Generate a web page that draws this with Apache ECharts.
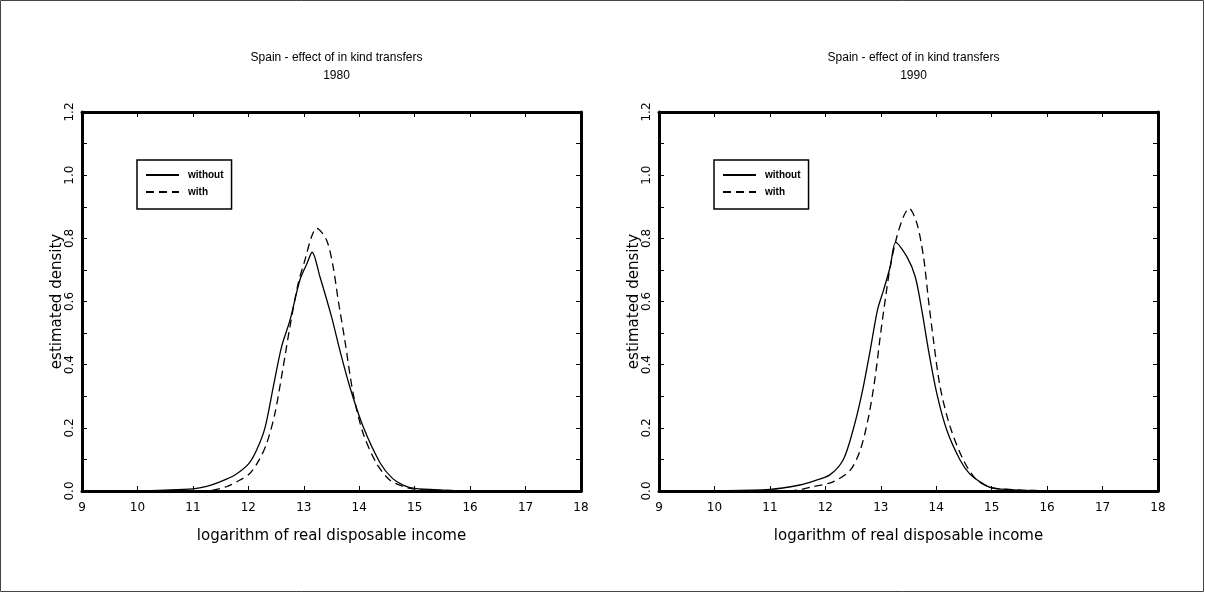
<!DOCTYPE html>
<html>
<head>
<meta charset="utf-8">
<script src="https://cdn.jsdelivr.net/npm/echarts@6/dist/echarts.min.js"></script>
<style>html,body{margin:0;padding:0;background:#fff}#c{width:1205px;height:593px}</style>
</head>
<body>
<div id="c"></div>
<script>
// ---- data ----
const titles = ['Spain - effect of in kind transfers\n1980', 'Spain - effect of in kind transfers\n1990'];
const seriesNames = ['without', 'with'];
const xTicks = [9, 10, 11, 12, 13, 14, 15, 16, 17, 18];

const x80Without = [9, 10, 10.5, 11, 11.25, 11.5, 11.75, 12, 12.15, 12.3, 12.45, 12.6, 12.75, 12.93, 13.06, 13.15, 13.29, 13.5, 13.65, 13.83, 14.07, 14.38, 14.6, 14.8, 15, 15.5, 16, 17, 18];
const y80Without = [0, 0.001, 0.003, 0.007, 0.015, 0.03, 0.05, 0.085, 0.13, 0.2, 0.33, 0.457, 0.54, 0.668, 0.721, 0.756, 0.679, 0.552, 0.446, 0.33, 0.204, 0.088, 0.04, 0.018, 0.008, 0.003, 0.001, 0, 0];

const x80With = [9, 11, 11.3, 11.61, 11.8, 12.03, 12.2, 12.33, 12.48, 12.63, 12.75, 12.9, 13.02, 13.14, 13.23, 13.41, 13.53, 13.62, 13.74, 13.89, 14.07, 14.31, 14.55, 14.8, 15, 15.5, 16, 17, 18];
const y80With = [0, 0, 0.001, 0.014, 0.03, 0.056, 0.1, 0.15, 0.246, 0.394, 0.52, 0.658, 0.731, 0.805, 0.832, 0.795, 0.71, 0.605, 0.478, 0.309, 0.183, 0.088, 0.035, 0.014, 0.006, 0.002, 0.001, 0, 0];

const x90Without = [9, 10, 11, 11.54, 11.8, 12.08, 12.32, 12.5, 12.66, 12.81, 12.94, 13.05, 13.17, 13.27, 13.47, 13.62, 13.74, 13.86, 14.01, 14.19, 14.43, 14.6, 14.79, 15, 15.5, 16, 17, 18];
const y90Without = [0, 0.001, 0.005, 0.019, 0.032, 0.051, 0.098, 0.193, 0.309, 0.446, 0.573, 0.636, 0.71, 0.787, 0.742, 0.679, 0.573, 0.446, 0.309, 0.193, 0.098, 0.055, 0.029, 0.01, 0.003, 0.001, 0, 0];

const x90With = [9, 11.3, 11.55, 11.78, 12.14, 12.45, 12.63, 12.78, 12.9, 12.99, 13.08, 13.17, 13.29, 13.41, 13.51, 13.65, 13.77, 13.86, 13.95, 14.07, 14.25, 14.49, 14.73, 15, 15.5, 16, 17, 18];
const y90With = [0, 0, 0.004, 0.014, 0.029, 0.066, 0.13, 0.235, 0.362, 0.489, 0.605, 0.71, 0.805, 0.869, 0.895, 0.848, 0.742, 0.605, 0.478, 0.33, 0.204, 0.098, 0.035, 0.011, 0.003, 0.001, 0, 0];

const panels = [
  { title: titles[0], without: [x80Without, y80Without], with: [x80With, y80With] },
  { title: titles[1], without: [x90Without, y90Without], with: [x90With, y90With] }
];

// ---- layout ----
const gridLefts = [82, 659];
const gridTop = 112, gridW = 499, gridH = 379;
const FONT = 'DejaVu Sans';
const pair = (xs, ys) => xs.map((x, i) => [x, ys[i]]);

const option = {
  animation: false,
  backgroundColor: '#fff',
  title: [], grid: [], xAxis: [], yAxis: [], legend: [], series: [],
  graphic: [{
    type: 'rect', shape: { x: 0.5, y: 0.5, width: 1203, height: 591 },
    style: { fill: 'none', stroke: '#444', lineWidth: 1 }, silent: true
  }]
};

panels.forEach((p, i) => {
  const L = gridLefts[i];
  option.grid.push({ left: L, top: gridTop, width: gridW, height: gridH, containLabel: false });
  option.title.push({
    text: p.title, left: L + gridW / 2, top: 44, textAlign: 'center',
    textStyle: { fontFamily: 'Liberation Sans', fontSize: 12, fontWeight: 'normal', color: '#000', lineHeight: 18 }
  });
  const lineAx = { show: true, onZero: false, lineStyle: { color: '#000', width: 3 } };
  const tick = { show: true, inside: true, length: 5, lineStyle: { color: '#000', width: 1 } };
  // bottom x
  option.xAxis.push({
    type: 'value', gridIndex: i, position: 'bottom', min: 9, max: 18, interval: 1,
    name: 'logarithm of real disposable income', nameLocation: 'middle', nameGap: 38,
    nameTextStyle: { fontFamily: FONT, fontSize: 15, color: '#000' },
    axisLine: lineAx, axisTick: tick, splitLine: { show: false },
    axisLabel: { margin: 11, fontFamily: FONT, fontSize: 12, color: '#000',
      formatter: v => xTicks.includes(v) ? String(v) : '' }
  });
  // top x (ticks only)
  option.xAxis.push({
    type: 'value', gridIndex: i, position: 'top', min: 9, max: 18, interval: 1,
    axisLine: lineAx, axisTick: tick, splitLine: { show: false }, axisLabel: { show: false }
  });
  // left y
  option.yAxis.push({
    type: 'value', gridIndex: i, position: 'left', min: 0, max: 1.2, interval: 0.1,
    name: 'estimated density', nameLocation: 'middle', nameGap: 17, nameRotate: 90,
    nameMoveOverlap: false,
    nameTextStyle: { fontFamily: FONT, fontSize: 15, color: '#000' },
    axisLine: lineAx, axisTick: tick, splitLine: { show: false },
    axisLabel: { rotate: 90, margin: 6, fontFamily: FONT, fontSize: 12, color: '#000',
      formatter: v => (Math.round(v * 10) % 2 === 0 ? v.toFixed(1) : '') }
  });
  // right y (ticks only)
  option.yAxis.push({
    type: 'value', gridIndex: i, position: 'right', min: 0, max: 1.2, interval: 0.1,
    axisLine: lineAx, axisTick: tick, splitLine: { show: false }, axisLabel: { show: false }
  });
  option.legend.push({
    data: seriesNames, orient: 'vertical', left: L + 55, top: 160,
    backgroundColor: '#fff', borderColor: '#000', borderWidth: 1.5, borderRadius: 0,
    padding: [10, 8, 12, 8], itemWidth: 33, itemHeight: 10, itemGap: 7,
    itemStyle: { opacity: 0, borderWidth: 0 },
    textStyle: { fontFamily: 'Liberation Sans', fontSize: 10, fontWeight: 'bold', color: '#000', padding: [0, 0, 0, 4] },
    selectedMode: false
  });
  option.series.push({
    name: seriesNames[0], type: 'line', xAxisIndex: 2 * i, yAxisIndex: 2 * i,
    data: pair(p.without[0], p.without[1]), showSymbol: false, symbol: 'none', smooth: 0.3,
    lineStyle: { color: '#000', width: 1.3, type: 'solid' }, itemStyle: { color: '#000' }
  });
  option.series.push({
    name: seriesNames[1], type: 'line', xAxisIndex: 2 * i, yAxisIndex: 2 * i,
    data: pair(p.with[0], p.with[1]), showSymbol: false, symbol: 'none', smooth: 0.3,
    lineStyle: { color: '#000', width: 1.3, type: [8, 5] }, itemStyle: { color: '#000' }
  });
});

const chart = echarts.init(document.getElementById('c'), null, { renderer: 'canvas' });
chart.setOption(option);
</script>
</body>
</html>
